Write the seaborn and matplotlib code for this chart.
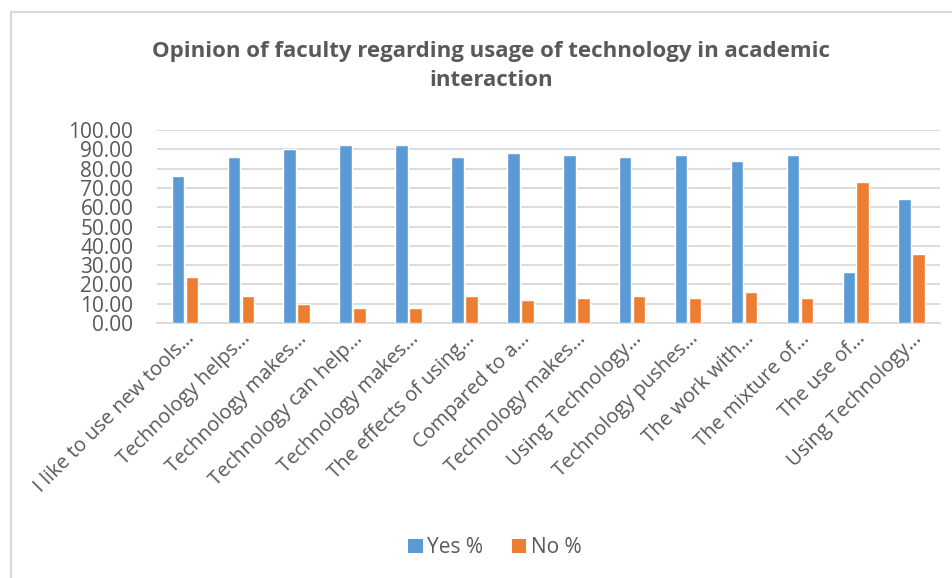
import pandas as pd
import matplotlib
matplotlib.use('Agg')
import matplotlib.pyplot as plt
import seaborn as sns
from matplotlib.lines import Line2D
from matplotlib.patches import Patch

# values
statements = [
    "I like to use new tools…",
    "Technology helps…",
    "Technology makes…",
    "Technology can help…",
    "Technology makes…",
    "The effects of using…",
    "Compared to a…",
    "Technology makes…",
    "Using Technology…",
    "Technology pushes…",
    "The work with…",
    "The mixture of…",
    "The use of…",
    "Using Technology…",
]
yes_pct = [76, 86, 90, 92, 92, 86, 88, 87, 86, 87, 84, 87, 26.7, 64.3]
no_pct = [24, 14, 10, 8, 8, 14, 12, 13, 14, 13, 16, 13, 73.3, 35.7]
series = ["Yes %", "No %"]
colors = ["#5B9BD5", "#ED7D31"]
title = "Opinion of faculty regarding usage of technology in academic\ninteraction"

# build long table; unique keys so duplicated labels stay separate
keys = [f"s{i}" for i in range(len(statements))]
df = pd.DataFrame({
    "key": keys * 2,
    "Percent": yes_pct + no_pct,
    "Response": [series[0]] * len(keys) + [series[1]] * len(keys),
})

sns.set_theme(style="white")
plt.rcParams['font.family'] = ['Open Sans', 'DejaVu Sans']
text_color = "#595959"
grid_color = "#D9D9D9"

fig = plt.figure(figsize=(9.53, 5.78), dpi=100)
ax = fig.add_axes([0.1647, 0.441, 0.8213, 0.334])

sns.barplot(data=df, x="key", y="Percent", hue="Response", order=keys,
            hue_order=series, palette=colors, width=0.5, gap=0.1,
            saturation=1, ax=ax, legend=False, zorder=3)

ax.set_ylim(0, 100)
ax.set_yticks(range(0, 101, 10))
ax.set_yticklabels([f"{v:.2f}" for v in range(0, 101, 10)],
                   fontsize=15, color=text_color)
ax.set_xticks(range(len(statements)))
ax.set_xticklabels(statements, rotation=45, ha="right", va="top",
                   rotation_mode="anchor", fontsize=14.5, color=text_color)
ax.set_xlim(-0.5, len(statements) - 0.5)
ax.set_xlabel("")
ax.set_ylabel("")
ax.tick_params(axis="both", length=0)
ax.tick_params(axis="x", pad=4)
ax.tick_params(axis="y", pad=17)
ax.yaxis.grid(True, color=grid_color, linewidth=1.3, zorder=0)
for side in ["top", "right", "left"]:
    ax.spines[side].set_visible(False)
ax.spines["bottom"].set_color(grid_color)
ax.spines["bottom"].set_linewidth(1.3)

fig.text(0.515, 0.886, title, ha="center", va="center", fontsize=16,
         fontweight="bold", color=text_color, linespacing=1.5)

handles = [Patch(facecolor=c, edgecolor="none") for c in colors]
fig.legend(handles, series, loc="center", bbox_to_anchor=(0.519, 0.052),
           ncol=2, frameon=False, fontsize=15, labelcolor=text_color,
           handlelength=0.7, handleheight=0.7, handletextpad=0.2,
           columnspacing=1.4)

# chart frame (left and top edges visible in the crop)
fig.add_artist(Line2D([11 / 953, 11 / 953], [0, 1 - 12 / 578],
                      transform=fig.transFigure, color=grid_color, lw=1.5))
fig.add_artist(Line2D([11 / 953, 1], [1 - 12 / 578, 1 - 12 / 578],
                      transform=fig.transFigure, color=grid_color, lw=1.5))

fig.savefig("out.png", dpi=100)
